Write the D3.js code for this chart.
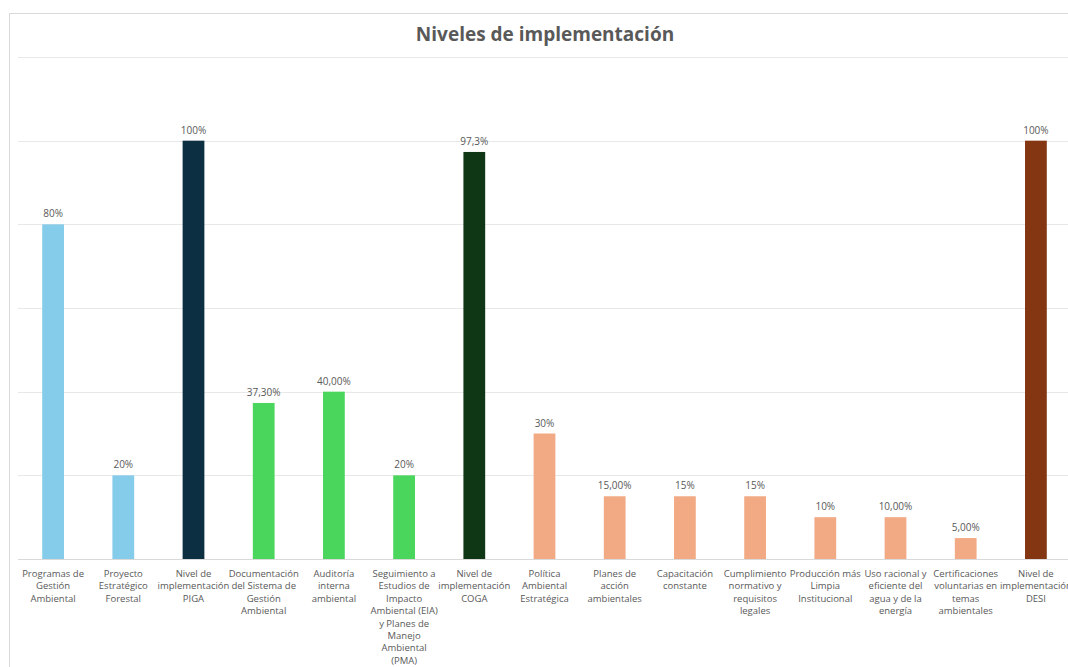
<!DOCTYPE html>
<html>
<head>
<meta charset="utf-8">
<script src="https://cdn.jsdelivr.net/npm/d3@7/dist/d3.min.js"></script>
<style>
  html, body { margin: 0; padding: 0; background: #fff; }
  svg { display: block; font-family: "Open Sans", "Noto Sans", sans-serif; }
</style>
</head>
<body>
<svg id="chart" width="1068" height="667"></svg>
<script>
const categories = [
  "Programas de\nGestión\nAmbiental",
  "Proyecto\nEstratégico\nForestal",
  "Nivel de\nimplementación\nPIGA",
  "Documentación\ndel Sistema de\nGestión\nAmbiental",
  "Auditoría\ninterna\nambiental",
  "Seguimiento a\nEstudios de\nImpacto\nAmbiental (EIA)\ny Planes de\nManejo\nAmbiental\n(PMA)",
  "Nivel de\nimplementación\nCOGA",
  "Política\nAmbiental\nEstratégica",
  "Planes de\nacción\nambientales",
  "Capacitación\nconstante",
  "Cumplimiento\nnormativo y\nrequisitos\nlegales",
  "Producción más\nLimpia\nInstitucional",
  "Uso racional y\neficiente del\nagua y de la\nenergía",
  "Certificaciones\nvoluntarias en\ntemas\nambientales",
  "Nivel de\nimplementación\nDESI"
];
const values = [0.80, 0.20, 1.00, 0.373, 0.40, 0.20, 0.973, 0.30, 0.15, 0.15, 0.15, 0.10, 0.10, 0.05, 1.00];
const valueLabels = ["80%", "20%", "100%", "37,30%", "40,00%", "20%", "97,3%", "30%", "15,00%", "15%", "15%", "10%", "10,00%", "5,00%", "100%"];
const barColors = ["#85CBEA", "#85CBEA", "#0D2F42", "#4AD65C", "#4AD65C", "#4AD65C", "#0F3615",
  "#F2AA84", "#F2AA84", "#F2AA84", "#F2AA84", "#F2AA84", "#F2AA84", "#F2AA84", "#843511"];
const gridTicks = [0, 0.2, 0.4, 0.6, 0.8, 1.0, 1.2];
const title = "Niveles de implementación";

const svg = d3.select("#chart");

// outer chart border
svg.append("rect")
  .attr("x", 9.5).attr("y", 13.5)
  .attr("width", 1090).attr("height", 700)
  .attr("fill", "#fff").attr("stroke", "#d9d9d9").attr("stroke-width", 1);

const x = d3.scaleBand()
  .domain(d3.range(categories.length))
  .range([18, 1071])
  .paddingInner(0.69)
  .paddingOuter(0.345);

const y = d3.scaleLinear().domain([0, 1.2]).range([559, 57]);

// gridlines
svg.append("g")
  .selectAll("line")
  .data(gridTicks)
  .join("line")
  .attr("x1", 18).attr("x2", 1071)
  .attr("y1", d => Math.round(y(d)) + 0.5)
  .attr("y2", d => Math.round(y(d)) + 0.5)
  .attr("stroke", d => d === 0 ? "#d9d9d9" : "#e8e8e8")
  .attr("stroke-width", 1);

// bars
svg.append("g")
  .selectAll("rect")
  .data(values)
  .join("rect")
  .attr("x", (d, i) => x(i))
  .attr("width", x.bandwidth())
  .attr("y", d => y(d))
  .attr("height", d => y(0) - y(d))
  .attr("fill", (d, i) => barColors[i]);

// value labels
svg.append("g")
  .selectAll("text")
  .data(values)
  .join("text")
  .attr("x", (d, i) => x(i) + x.bandwidth() / 2)
  .attr("y", d => y(d) - 7)
  .attr("text-anchor", "middle")
  .attr("font-size", 10)
  .attr("fill", "#595959")
  .text((d, i) => valueLabels[i]);

// category labels
const catG = svg.append("g");
categories.forEach((c, i) => {
  const t = catG.append("text")
    .attr("x", x(i) + x.bandwidth() / 2)
    .attr("y", 577)
    .attr("text-anchor", "middle")
    .attr("font-size", 9.5)
    .attr("fill", "#595959");
  c.split("\n").forEach((line, k) => {
    t.append("tspan")
      .attr("x", x(i) + x.bandwidth() / 2)
      .attr("dy", k === 0 ? 0 : 12.4)
      .text(line);
  });
});

// title
svg.append("text")
  .attr("x", 545).attr("y", 41)
  .attr("text-anchor", "middle")
  .attr("font-size", 19)
  .attr("font-weight", "bold")
  .attr("fill", "#595959")
  .text(title);
</script>
</body>
</html>
